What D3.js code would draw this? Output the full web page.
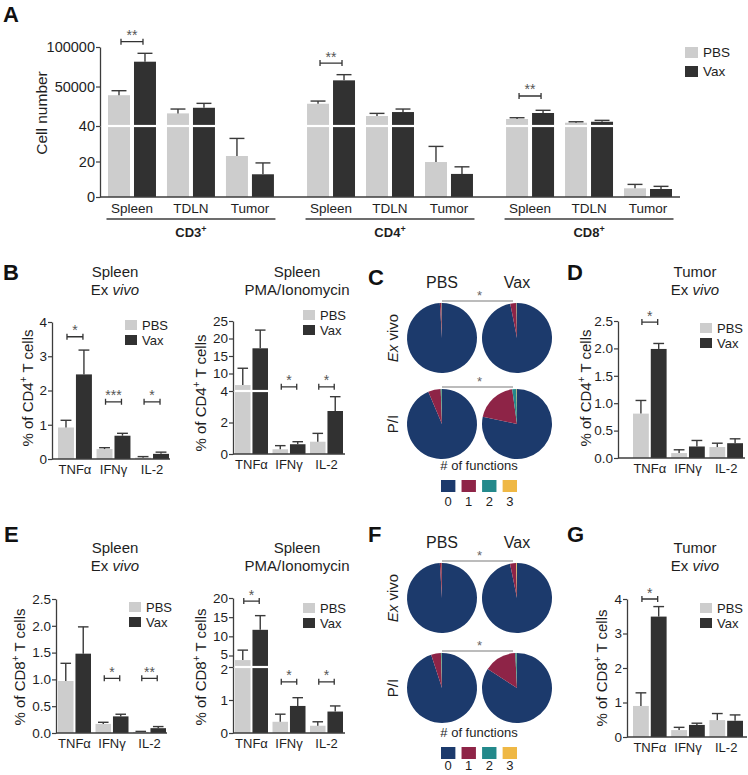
<!DOCTYPE html>
<html><head><meta charset="utf-8">
<script src="https://cdn.jsdelivr.net/npm/d3@7"></script>
<style>
body{margin:0;background:#fff;}
</style></head><body>
<svg id="fig" width="748" height="775"></svg>
<script>
// ---------------- DATA ----------------
const tissues = ["Spleen", "TDLN", "Tumor"];
const cellTypes = ["CD3", "CD4", "CD8"];
const groups = ["PBS", "Vax"];
const cytokines = ["TNFα", "IFNγ", "IL-2"];
const funcCats = ["0", "1", "2", "3"];

// Panel A: cell numbers (order: CD3 Spleen/TDLN/Tumor, CD4 ..., CD8 ...)
const cellPBS    = [39000, 16000, 23.1, 28200, 12700, 19.7, 8900, 4200, 4.9];
const cellPBSErr = [5700, 5500, 9.9, 3400, 3300, 8.8, 1600, 1200, 2.2];
const cellVax    = [81400, 23100, 12.8, 57800, 17700, 13.0, 16500, 5400, 4.5];
const cellVaxErr = [10600, 5600, 6.4, 7200, 3800, 4.0, 3400, 1800, 1.5];
const cellSig      = ["**", "", "", "**", "", "", "**", "", ""];
const cellSigLevel = [106700, 0, 0, 79700, 0, 0, 38000, 0, 0];

// Panel B left: CD4 spleen ex vivo
const b1PBS = [0.92, 0.29, 0.04], b1PBSErr = [0.21, 0.04, 0.03];
const b1Vax = [2.47, 0.68, 0.15], b1VaxErr = [0.71, 0.07, 0.05];
const b1Sig = ["*", "***", "*"], b1SigLevel = [3.57, 1.67, 1.67];
// Panel B right: CD4 spleen PMA/Ionomycin
const b2PBS = [6.7, 0.30, 0.78], b2PBSErr = [4.8, 0.23, 0.53];
const b2Vax = [17.2, 0.62, 2.73], b2VaxErr = [5.2, 0.16, 0.91];
const b2Sig = ["", "*", "*"], b2SigLevel = [0, 6.2, 6.2];
// Panel D: CD4 tumor ex vivo
const dPBS = [0.81, 0.09, 0.20], dPBSErr = [0.24, 0.06, 0.07];
const dVax = [1.99, 0.21, 0.27], dVaxErr = [0.10, 0.11, 0.08];
const dSig = ["*", "", ""], dSigLevel = [2.48, 0, 0];
// Panel E left: CD8 spleen ex vivo
const e1PBS = [0.97, 0.17, 0.02], e1PBSErr = [0.33, 0.03, 0.01];
const e1Vax = [1.48, 0.31, 0.09], e1VaxErr = [0.50, 0.04, 0.03];
const e1Sig = ["", "*", "**"], e1SigLevel = [0, 1.02, 1.02];
// Panel E right: CD8 spleen PMA/Ionomycin
const e2PBS = [3.8, 0.34, 0.22], e2PBSErr = [2.6, 0.23, 0.12];
const e2Vax = [11.7, 0.82, 0.65], e2VaxErr = [3.7, 0.25, 0.17];
const e2Sig = ["*", "*", "*"], e2SigLevel = [19.2, 1.55, 1.55];
// Panel G: CD8 tumor ex vivo
const gPBS = [0.90, 0.20, 0.49], gPBSErr = [0.38, 0.08, 0.19];
const gVax = [3.49, 0.35, 0.47], gVaxErr = [0.29, 0.05, 0.17];
const gSig = ["*", "", ""], gSigLevel = [4.0, 0, 0];

// Panels C / F: % of cells with # of functions (0,1,2,3)
const cd4PiePBSExVivo = [99.0, 0.8, 0.15, 0.05];
const cd4PieVaxExVivo = [96.9, 2.8, 0.2, 0.1];
const cd4PiePBSPI     = [93.6, 5.8, 0.5, 0.1];
const cd4PieVaxPI     = [78.3, 19.5, 2.0, 0.2];
const cd8PiePBSExVivo = [99.0, 0.9, 0.05, 0.05];
const cd8PieVaxExVivo = [96.8, 2.8, 0.1, 0.3];
const cd8PiePBSPI     = [95.0, 4.5, 0.4, 0.1];
const cd8PieVaxPI     = [84.2, 15.0, 0.7, 0.1];

// Tick values
const aTicksLow = [0, 20, 40], aTicksHigh = [50000, 100000];
const b1Ticks = [0, 1, 2, 3, 4];
const b2TicksLow = [0, 2, 4], b2TicksHigh = [10, 15, 20, 25];
const dTicks = [0, 0.5, 1.0, 1.5, 2.0, 2.5];
const e1Ticks = [0, 0.5, 1.0, 1.5, 2.0, 2.5];
const e2TicksLow = [0, 1, 2], e2TicksHigh = [5, 10, 15, 20];
const gTicks = [0, 1, 2, 3, 4];

// ---------------- STYLE ----------------
const FONT = "'Liberation Sans', Arial, Helvetica, sans-serif";
const AX = "#3c3c3c";
const TXT = "#1e1e1e";
const BAR = {PBS: "#cdcdcd", Vax: "#313131"};
const ERRC = "#3a3a3a";
const PIE_COLORS = ["#1c3a6c", "#8e2447", "#23898b", "#efb845"];

const svg = d3.select("#fig");

function addText(parent, x, y, parts, attrs = {}) {
  const t = parent.append("text").attr("x", x).attr("y", y)
    .attr("font-family", FONT).attr("fill", TXT);
  for (const k in attrs) t.attr(k, attrs[k]);
  parts.forEach(p => {
    if (typeof p === "string") { t.append("tspan").text(p); return; }
    const s = t.append("tspan").text(p.t);
    if (p.i) s.attr("font-style", "italic");
    if (p.b) s.attr("font-weight", "bold");
    if (p.fs) s.attr("font-size", p.fs);
    if (p.dy) s.attr("dy", p.dy);
  });
  return t;
}
function rotText(parent, cx, cy, parts, fs) {
  return addText(parent, cx, cy + 0.35 * fs, parts,
    {"font-size": fs, "text-anchor": "middle", transform: `rotate(-90 ${cx} ${cy})`});
}
function segScale(segs) {
  const sc = segs.map(s => d3.scaleLinear().domain(s.d).range(s.r));
  const f = v => {
    for (let i = sc.length - 1; i > 0; i--) if (v >= segs[i].d[0]) return sc[i](v);
    return sc[0](v);
  };
  f.scales = sc;
  return f;
}
function panelLetter(x, y, L) {
  addText(svg, x, y, [L], {"font-size": 22, "font-weight": "bold", fill: "#111"});
}
function drawYAxis(g, axisX, segs, scale, fs) {
  segs.forEach((s, i) => {
    const ax = g.append("g").attr("transform", `translate(${axisX},0)`)
      .call(d3.axisLeft(scale.scales[i]).tickValues(s.ticks)
        .tickFormat(d3.format(s.fmt || "d")).tickSize(4).tickSizeOuter(0));
    ax.attr("font-family", FONT).attr("font-size", fs);
    ax.select(".domain").attr("stroke", AX).attr("stroke-width", 1.3);
    ax.selectAll(".tick line").attr("stroke", AX).attr("stroke-width", 1.2);
    ax.selectAll(".tick text").attr("fill", TXT).attr("x", -5);
    if (s.nudge) ax.selectAll(".tick text").attr("dy", d => (s.nudge[d] !== undefined ? s.nudge[d] : 0) + 4.5);
  });
}
function drawBarsAt(g, xLeft, bw, v, e, color, yS, y0, breakV, breakY) {
  g.append("rect").attr("x", xLeft).attr("y", yS(v)).attr("width", bw)
    .attr("height", y0 - yS(v)).attr("fill", color);
  const cx = xLeft + bw / 2, cw = bw * 0.68;
  g.append("line").attr("x1", cx).attr("x2", cx).attr("y1", yS(v)).attr("y2", yS(v + e))
    .attr("stroke", ERRC).attr("stroke-width", 1.4);
  g.append("line").attr("x1", cx - cw / 2).attr("x2", cx + cw / 2)
    .attr("y1", yS(v + e)).attr("y2", yS(v + e)).attr("stroke", ERRC).attr("stroke-width", 1.4);
  if (breakV !== undefined && v > breakV) {
    g.append("line").attr("x1", xLeft - 0.5).attr("x2", xLeft + bw + 0.5)
      .attr("y1", breakY).attr("y2", breakY).attr("stroke", "#fff").attr("stroke-width", 2.2);
  }
}
function bracket(g, x1, x2, y, label, fs) {
  g.append("path").attr("d", `M${x1},${y - 3}V${y + 3}M${x1},${y}H${x2}M${x2},${y - 3}V${y + 3}`)
    .attr("stroke", "#333").attr("stroke-width", 1.3).attr("fill", "none");
  addText(g, (x1 + x2) / 2, y - 1.5, [label], {"font-size": fs, "text-anchor": "middle", fill: "#555"});
}
function legend(g, x, y, dy, sw, sh, fs) {
  groups.forEach((s, i) => {
    g.append("rect").attr("x", x).attr("y", y + i * dy).attr("width", sw).attr("height", sh)
      .attr("fill", BAR[s]);
    addText(g, x + sw + 5, y + i * dy + sh / 2 + 0.35 * fs, [s], {"font-size": fs});
  });
}

// ---------------- PANEL A ----------------
(function () {
  const g = svg.append("g");
  panelLetter(3, 22, "A");
  const segs = [{d: [0, 40], r: [197, 126], ticks: aTicksLow},
                {d: [40, 100000], r: [126, 47], ticks: aTicksHigh}];
  const y = segScale(segs);
  const xG = d3.scaleBand().domain(cellTypes).range([102.5, 677.5]).paddingInner(0.111);
  const xT = d3.scaleBand().domain(tissues).range([0, xG.bandwidth()]);
  const xS = d3.scaleBand().domain(groups).range([5.5, xT.bandwidth() - 5.5]).paddingInner(0.154);
  const y0 = 197;
  cellTypes.forEach((ct, gi) => {
    tissues.forEach((ts, ti) => {
      const i = gi * 3 + ti;
      const base = xG(ct) + xT(ts);
      drawBarsAt(g, base + xS("PBS"), xS.bandwidth(), cellPBS[i], cellPBSErr[i], BAR.PBS, y, y0, 40, 126);
      drawBarsAt(g, base + xS("Vax"), xS.bandwidth(), cellVax[i], cellVaxErr[i], BAR.Vax, y, y0, 40, 126);
      if (cellSig[i]) {
        bracket(g, base + xS("PBS") + xS.bandwidth() / 2 + 2, base + xS("Vax") + xS.bandwidth() / 2 - 2,
          y(cellSigLevel[i]), cellSig[i], 14);
      }
      addText(g, base + xT.bandwidth() / 2, y0 + 16, [ts], {"font-size": 13.5, "text-anchor": "middle"});
    });
    const gx0 = xG(ct) + 4, gx1 = xG(ct) + xG.bandwidth() - 4;
    g.append("line").attr("x1", gx0).attr("x2", gx1).attr("y1", 219).attr("y2", 219)
      .attr("stroke", AX).attr("stroke-width", 1.3);
    addText(g, (gx0 + gx1) / 2, 237, [ct, {t: "+", fs: 9, dy: -5}],
      {"font-size": 13, "font-weight": "bold", "text-anchor": "middle"});
  });
  drawYAxis(g, 100, segs, y, 14.5);
  g.append("line").attr("x1", 100).attr("x2", 680).attr("y1", y0).attr("y2", y0)
    .attr("stroke", AX).attr("stroke-width", 1.3);
  rotText(g, 42, 113, ["Cell number"], 15.5);
  legend(g, 685, 47, 19, 13, 11, 13.5);
})();

// ---------------- CYTOKINE BAR PANELS ----------------
function cytoPanel(o) {
  const g = svg.append("g");
  const y = segScale(o.segs);
  const x = d3.scaleBand().domain(cytokines).range(o.xRange).paddingInner(0.12);
  const xs = d3.scaleBand().domain(groups).range([0, x.bandwidth()]).paddingInner(0.11);
  cytokines.forEach((c, i) => {
    drawBarsAt(g, x(c) + xs("PBS"), xs.bandwidth(), o.pbs[i], o.pbsErr[i], BAR.PBS, y, o.y0, o.breakV, o.breakY);
    drawBarsAt(g, x(c) + xs("Vax"), xs.bandwidth(), o.vax[i], o.vaxErr[i], BAR.Vax, y, o.y0, o.breakV, o.breakY);
    if (o.sig[i]) {
      bracket(g, x(c) + xs("PBS") + xs.bandwidth() / 2 + 1, x(c) + xs("Vax") + xs.bandwidth() / 2 - 1,
        y(o.sigLevel[i]), o.sig[i], 14);
    }
    addText(g, x(c) + x.bandwidth() / 2, o.y0 + 15, [c], {"font-size": 13, "text-anchor": "middle"});
  });
  drawYAxis(g, o.axisX, o.segs, y, 13.5);
  g.append("line").attr("x1", o.axisX).attr("x2", o.xEnd).attr("y1", o.y0).attr("y2", o.y0)
    .attr("stroke", AX).attr("stroke-width", 1.3);
  rotText(g, o.yt[0], o.yt[1], ["% of CD" + o.cd, {t: "+", fs: 10, dy: -6}, {t: " T cells", dy: 6}], 15);
  addText(g, o.title[0], o.title[1], [o.t1], {"font-size": 15, "text-anchor": "middle"});
  addText(g, o.title[0], o.title[1] + 18, o.t2, {"font-size": 15, "text-anchor": "middle"});
  legend(g, o.leg[0], o.leg[1], 15, 12, 10, 13);
}
const exVivoTitle = ["Ex ", {t: "vivo", i: true}];

panelLetter(3, 280, "B");
cytoPanel({pbs: b1PBS, pbsErr: b1PBSErr, vax: b1Vax, vaxErr: b1VaxErr, sig: b1Sig, sigLevel: b1SigLevel,
  segs: [{d: [0, 4], r: [459, 322], ticks: b1Ticks}], y0: 459, axisX: 52, xEnd: 170, xRange: [58, 169],
  cd: "4", yt: [28, 388], title: [115, 277], t1: "Spleen", t2: exVivoTitle, leg: [125, 320]});
cytoPanel({pbs: b2PBS, pbsErr: b2PBSErr, vax: b2Vax, vaxErr: b2VaxErr, sig: b2Sig, sigLevel: b2SigLevel,
  segs: [{d: [0, 4], r: [454, 391], ticks: b2TicksLow}, {d: [5, 25], r: [391, 321], ticks: b2TicksHigh}],
  breakV: 4, breakY: 391, y0: 454, axisX: 233, xEnd: 345, xRange: [235, 343],
  cd: "4", yt: [201, 393], title: [297, 277], t1: "Spleen", t2: ["PMA/Ionomycin"], leg: [303, 310]});
panelLetter(567, 280, "D");
cytoPanel({pbs: dPBS, pbsErr: dPBSErr, vax: dVax, vaxErr: dVaxErr, sig: dSig, sigLevel: dSigLevel,
  segs: [{d: [0, 2.5], r: [458, 321], ticks: dTicks, fmt: ".1f"}], y0: 458, axisX: 618, xEnd: 745,
  xRange: [633, 743], cd: "4", yt: [586, 388], title: [695, 277], t1: "Tumor", t2: exVivoTitle, leg: [700, 323]});

panelLetter(4, 542, "E");
cytoPanel({pbs: e1PBS, pbsErr: e1PBSErr, vax: e1Vax, vaxErr: e1VaxErr, sig: e1Sig, sigLevel: e1SigLevel,
  segs: [{d: [0, 2.5], r: [733, 599], ticks: e1Ticks, fmt: ".1f"}], y0: 733, axisX: 56, xEnd: 167,
  xRange: [58, 166], cd: "8", yt: [20, 667], title: [115, 553], t1: "Spleen", t2: exVivoTitle, leg: [129, 602]});
cytoPanel({pbs: e2PBS, pbsErr: e2PBSErr, vax: e2Vax, vaxErr: e2VaxErr, sig: e2Sig, sigLevel: e2SigLevel,
  segs: [{d: [0, 2], r: [733, 667], ticks: e2TicksLow, nudge: {2: 2}},
         {d: [2, 20], r: [667, 598], ticks: e2TicksHigh, nudge: {5: -2}}],
  breakV: 2, breakY: 667, y0: 733, axisX: 233, xEnd: 345, xRange: [235, 343],
  cd: "8", yt: [201, 667], title: [297, 553], t1: "Spleen", t2: ["PMA/Ionomycin"], leg: [303, 603]});
panelLetter(567, 542, "G");
cytoPanel({pbs: gPBS, pbsErr: gPBSErr, vax: gVax, vaxErr: gVaxErr, sig: gSig, sigLevel: gSigLevel,
  segs: [{d: [0, 4], r: [737, 599], ticks: gTicks}], y0: 737, axisX: 627, xEnd: 747,
  xRange: [633, 743], cd: "8", yt: [602, 668], title: [695, 553], t1: "Tumor", t2: exVivoTitle, leg: [700, 603]});

// ---------------- PIE PANELS ----------------
function piePanel(o) {
  const g = svg.append("g");
  const pie = d3.pie().sort(null).value(d => d);
  const arc = d3.arc().innerRadius(0).outerRadius(35);
  const xPos = d3.scalePoint().domain(groups).range([442, 517]);
  const rows = [{lab: [{t: "Ex", i: true}, " vivo"], y: o.y1, d: o.exVivo},
                {lab: ["P/I"], y: o.y2, d: o.pi}];
  groups.forEach(s => addText(g, xPos(s), o.head + 0.35 * 16, [s], {"font-size": 16, "text-anchor": "middle"}));
  rows.forEach(r => {
    groups.forEach((s, si) => {
      const pg = g.append("g").attr("transform", `translate(${xPos(s)},${r.y})`);
      pg.selectAll("path").data(pie(r.d[si])).join("path")
        .attr("d", arc).attr("fill", (d, i) => PIE_COLORS[i]);
    });
    rotText(g, 393, r.y, r.lab, 15);
    const ly = r.y - 37;
    g.append("line").attr("x1", xPos("PBS")).attr("x2", xPos("Vax") - 4).attr("y1", ly).attr("y2", ly)
      .attr("stroke", "#a6a6a6").attr("stroke-width", 1.6);
    addText(g, (xPos("PBS") + xPos("Vax")) / 2, ly - 1.5, ["*"], {"font-size": 13, "text-anchor": "middle", fill: "#666"});
  });
  addText(g, 479, o.fy + 0.35 * 13, ["# of functions"], {"font-size": 13, "text-anchor": "middle"});
  const lx = d3.scaleBand().domain(funcCats).range([441, 517]).paddingInner(0.3);
  funcCats.forEach((c, i) => {
    g.append("rect").attr("x", lx(c)).attr("y", o.sy).attr("width", lx.bandwidth()).attr("height", 12)
      .attr("fill", PIE_COLORS[i]);
    addText(g, lx(c) + lx.bandwidth() / 2, o.sy + o.ly, [c], {"font-size": 13, "text-anchor": "middle"});
  });
}
panelLetter(368, 285, "C");
piePanel({head: 282, y1: 338, y2: 424, fy: 465, sy: 480, ly: 26,
  exVivo: [cd4PiePBSExVivo, cd4PieVaxExVivo], pi: [cd4PiePBSPI, cd4PieVaxPI]});
panelLetter(368, 542, "F");
piePanel({head: 542, y1: 598, y2: 688, fy: 732, sy: 747, ly: 23,
  exVivo: [cd8PiePBSExVivo, cd8PieVaxExVivo], pi: [cd8PiePBSPI, cd8PieVaxPI]});
</script>
</body></html>
